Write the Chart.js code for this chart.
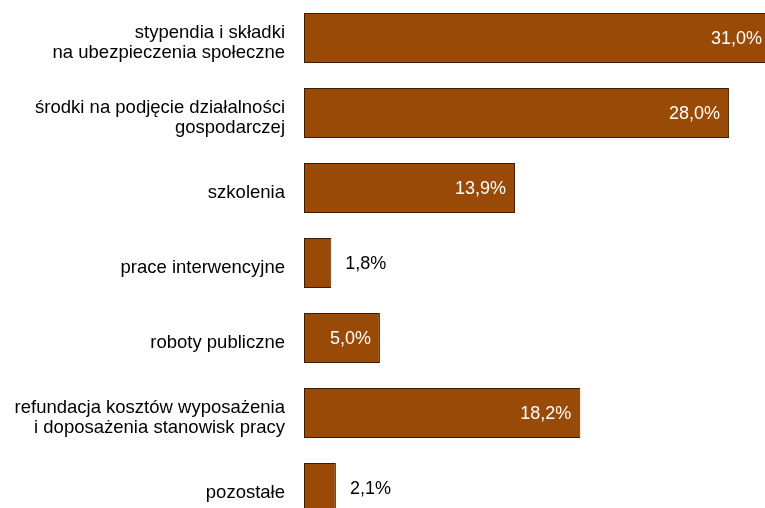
<!DOCTYPE html>
<html>
<head>
<meta charset="utf-8">
<script src="https://cdn.jsdelivr.net/npm/chart.js@4"></script>
<style>
    html, body { margin: 0; padding: 0; background: #fff; overflow: hidden; }
    #wrap { width: 800px; height: 526px; }
</style>
</head>
<body>
<div id="wrap"><canvas id="barChart" width="800" height="526"></canvas></div>
<script>
// Category labels (multi-line ones split into arrays)
const categories = [
    ['stypendia i składki', 'na ubezpieczenia społeczne'],
    ['środki na podjęcie działalności', 'gospodarczej'],
    'szkolenia',
    'prace interwencyjne',
    'roboty publiczne',
    ['refundacja kosztów wyposażenia', 'i doposażenia stanowisk pracy'],
    'pozostałe'
];
const shares = [31.0, 28.0, 13.9, 1.8, 5.0, 18.2, 2.1];

const barColor = '#994a07';
const barBorder = '#3a1c02';
const fontFamily = "'Liberation Sans', Arial, sans-serif";

const fmt = v => v.toFixed(1).replace('.', ',') + '%';

// draws the value labels: inside the bar when it fits, else just after it
const valueLabels = {
    id: 'valueLabels',
    afterDatasetsDraw(chart) {
        const ctx = chart.ctx;
        const meta = chart.getDatasetMeta(0);
        ctx.save();
        ctx.font = '18px ' + fontFamily;
        ctx.textBaseline = 'middle';
        meta.data.forEach((bar, i) => {
            const txt = fmt(shares[i]);
            const w = ctx.measureText(txt).width;
            const len = bar.x - bar.base;
            if (w + 20 < len) {
                ctx.fillStyle = '#ffffff';
                ctx.textAlign = 'right';
                // keep the clipped first bar's label inside the window
                const right = Math.min(bar.x - 9, 762);
                ctx.fillText(txt, right, bar.y + 1);
            } else {
                ctx.fillStyle = '#000000';
                ctx.textAlign = 'left';
                ctx.fillText(txt, bar.x + 14, bar.y + 1);
            }
        });
        ctx.restore();
    }
};

new Chart(document.getElementById('barChart').getContext('2d'), {
    type: 'bar',
    data: {
        labels: categories,
        datasets: [{
            data: shares,
            backgroundColor: barColor,
            borderColor: barBorder,
            borderWidth: 1,
            borderSkipped: false,
            categoryPercentage: 1,
            barPercentage: 50 / 75
        }]
    },
    options: {
        indexAxis: 'y',
        responsive: false,
        animation: false,
        devicePixelRatio: 1,
        layout: { padding: { top: 0.5, bottom: 0.5 } },
        plugins: {
            legend: { display: false },
            tooltip: { enabled: false }
        },
        scales: {
            x: {
                display: false,
                min: 0,
                max: 32.67
            },
            y: {
                grid: { display: false, drawTicks: false },
                border: { display: false },
                ticks: {
                    padding: 19,
                    labelOffset: 5,
                    color: '#000',
                    font: { family: fontFamily, size: 18.5, lineHeight: 1.05 }
                },
                afterFit(scale) {
                    scale.width = 304;
                    scale.paddingTop = 0;
                    scale.paddingBottom = 0;
                }
            }
        }
    },
    plugins: [valueLabels]
});
</script>
</body>
</html>
